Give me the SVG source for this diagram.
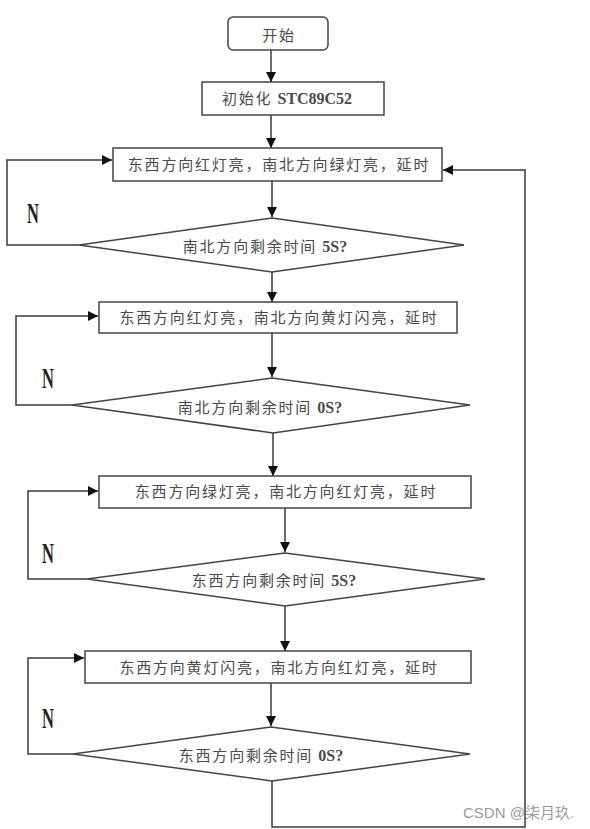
<svg xmlns="http://www.w3.org/2000/svg" width="590" height="829" viewBox="0 0 590 829">
<style>
.box{fill:#fff;stroke:#444;stroke-width:1.5}
.ln{fill:none;stroke:#3a3a3a;stroke-width:1.5}
.t{font-family:"Noto Sans CJK SC","Liberation Serif",serif;font-size:15px;fill:#4a4a4a;text-anchor:middle;letter-spacing:1.8px}
.lat{font-family:"Liberation Serif",serif;font-weight:bold;font-size:16px;letter-spacing:0}
.n{font-family:"Liberation Serif",serif;font-weight:bold;font-size:30px;fill:#222;text-anchor:middle}
.wm{font-family:"Liberation Sans","Noto Sans CJK SC",sans-serif;font-size:15px;fill:#9a9a9a}
</style>
<defs>
<marker id="ah" markerUnits="userSpaceOnUse" markerWidth="10" markerHeight="10" refX="10" refY="5" orient="auto">
<path d="M0,0 L10,5 L0,10 z" fill="#111"/>
</marker>
</defs>
<rect width="590" height="829" fill="#fff"/>
<g id="connectors">
<line class="ln" x1="271" y1="50" x2="271" y2="82" marker-end="url(#ah)"/>
<line class="ln" x1="271" y1="115" x2="271" y2="148" marker-end="url(#ah)"/>
<line class="ln" x1="272" y1="181" x2="272" y2="217" marker-end="url(#ah)"/>
<line class="ln" x1="272" y1="272" x2="272" y2="302" marker-end="url(#ah)"/>
<line class="ln" x1="272" y1="333" x2="272" y2="377" marker-end="url(#ah)"/>
<line class="ln" x1="273" y1="433" x2="273" y2="476" marker-end="url(#ah)"/>
<line class="ln" x1="285" y1="508" x2="285" y2="552" marker-end="url(#ah)"/>
<line class="ln" x1="285" y1="606" x2="285" y2="651" marker-end="url(#ah)"/>
<line class="ln" x1="271" y1="683" x2="271" y2="726" marker-end="url(#ah)"/>
<path class="ln" d="M79,245 H7 V160 H112" marker-end="url(#ah)"/>
<path class="ln" d="M72,405 H16 V316 H98" marker-end="url(#ah)"/>
<path class="ln" d="M87,579 H28 V491 H98" marker-end="url(#ah)"/>
<path class="ln" d="M73,754 H28 V658 H84" marker-end="url(#ah)"/>
<path class="ln" d="M272,781 V827 H525 V170 H443" marker-end="url(#ah)"/>
</g>
<g id="start"><rect class="box" x="228" y="17" width="100" height="33" rx="5"/><text class="t" x="279" y="41">开始</text></g>
<g id="init"><rect class="box" x="202" y="82" width="182" height="33"/><text class="t" x="287" y="104">初始化 <tspan class="lat">STC89C52</tspan></text></g>
<g id="box1"><rect class="box" x="113" y="148" width="329" height="33"/><text class="t" x="279" y="170">东西方向红灯亮，南北方向绿灯亮，延时</text></g>
<g id="d1"><polygon class="box" points="272,218 464,245 272,272 79,245"/><text class="t" x="265" y="252">南北方向剩余时间 <tspan class="lat">5S?</tspan></text></g>
<g id="n1"><text class="n" transform="translate(33,223) scale(0.55,1)">N</text></g>
<g id="box2"><rect class="box" x="99" y="302" width="358" height="31"/><text class="t" x="279" y="323">东西方向红灯亮，南北方向黄灯闪亮，延时</text></g>
<g id="d2"><polygon class="box" points="272,378 470,405 273,433 72,405"/><text class="t" x="260" y="413">南北方向剩余时间 <tspan class="lat">0S?</tspan></text></g>
<g id="n2"><text class="n" transform="translate(48,388) scale(0.55,1)">N</text></g>
<g id="box3"><rect class="box" x="99" y="476" width="372" height="32"/><text class="t" x="286" y="497">东西方向绿灯亮，南北方向红灯亮，延时</text></g>
<g id="d3"><polygon class="box" points="285,553 485,579 285,606 87,579"/><text class="t" x="274" y="586">东西方向剩余时间 <tspan class="lat">5S?</tspan></text></g>
<g id="n3"><text class="n" transform="translate(48,563) scale(0.55,1)">N</text></g>
<g id="box4"><rect class="box" x="85" y="651" width="386" height="32"/><text class="t" x="279" y="673">东西方向黄灯闪亮，南北方向红灯亮，延时</text></g>
<g id="d4"><polygon class="box" points="271,727 470,754 272,781 73,754"/><text class="t" x="261" y="761">东西方向剩余时间 <tspan class="lat">0S?</tspan></text></g>
<g id="n4"><text class="n" transform="translate(48,728) scale(0.55,1)">N</text></g>
<text class="wm" x="463" y="818">CSDN @柒月玖.</text>
</svg>
